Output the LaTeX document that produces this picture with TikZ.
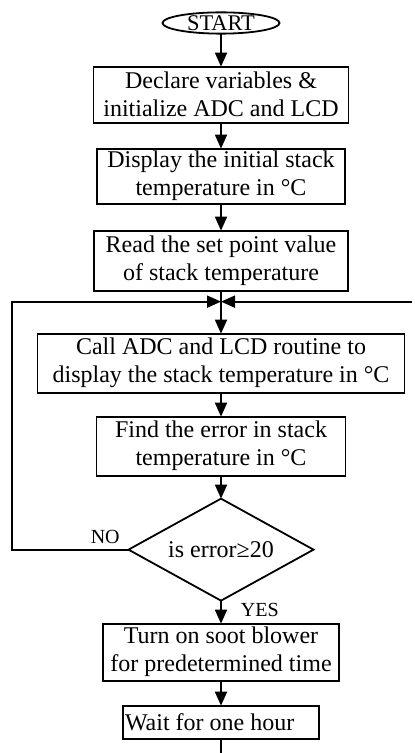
\documentclass[tikz,border=0pt]{standalone}
\usepackage{fontspec}
\setmainfont{Liberation Serif}
\usetikzlibrary{arrows.meta,positioning,shapes.geometric}

\begin{document}
\begin{tikzpicture}[
  node distance=12pt,
  every node/.style={font=\fontsize{12}{14}\selectfont},
  proc/.style={rectangle, draw, line width=0.9pt, align=center, inner xsep=1pt, inner ysep=0pt,
               outer sep=0pt, minimum height=28.5pt},
  term/.style={ellipse, draw, line width=0.9pt, minimum width=58.5pt, minimum height=10pt,
               inner sep=0pt, outer sep=0pt, font=\fontsize{11.2}{12}\selectfont},
  dec/.style={diamond, draw, line width=0.9pt, aspect=1.8, inner sep=0pt, outer sep=0pt,
              minimum width=92.5pt, minimum height=51pt},
  arr/.style={-{Triangle[length=7pt,width=6pt]}, line width=0.9pt},
  lbl/.style={font=\fontsize{10}{12}\selectfont, inner sep=0.5pt},
]
\useasboundingbox (0,0) rectangle (207pt,-376.5pt);

\node[term] (start) at (110.5pt,-11.5pt) {START};
\node[proc, minimum width=127.5pt, minimum height=28pt, below=16.5pt of start] (decl) {Declare variables \&\\initialize ADC and LCD};
\node[proc, minimum width=124pt, minimum height=27.5pt, below=13pt of decl] (disp) {Display the initial stack\\temperature in °C};
\node[proc, minimum width=127pt, minimum height=30pt, below=13.5pt of disp] (setp) {Read the set point value\\of stack temperature};
\node[proc, minimum width=183.5pt, minimum height=29.5pt, below=21.5pt of setp] (adc) {Call ADC and LCD routine to\\display the stack temperature in °C};
\node[proc, minimum width=124.5pt, minimum height=29.5pt, below=12pt of adc] (err) {Find the error in stack\\temperature in °C};
\node[dec, below=11.5pt of err] (chk) {is error≥20};
\node[proc, minimum width=118pt, below=11.5pt of chk] (soot) {Turn on soot blower\\for predetermined time};
\node[proc, minimum height=16.5pt, below=12.5pt of soot, text width=96pt, align=flush left] (wait) {Wait for one hour};

% loop ends
\coordinate[below=5.5pt of setp] (jn);
\coordinate (lft) at (6pt,0 |- chk);
\coordinate (rgt) at (206pt,0 |- jn);
\coordinate (bot) at (wait |- 0,-376.5pt);

\draw[arr] (start) -- (decl);
\draw[arr] (decl) -- (disp);
\draw[arr] (disp) -- (setp);
\draw[arr] (setp) -- (adc);
\draw[arr] (adc) -- (err);
\draw[arr] (err) -- (chk);
\draw[arr] (chk) -- node[lbl, pos=0.4, right=9pt]{YES} (soot);
\draw[arr] (soot) -- (wait);
\draw[line width=0.9pt] (wait) -- (bot);
\draw[arr] (chk.west) -- node[lbl, pos=0.2, above=2pt]{NO} (lft) |- (jn);
\draw[arr] (rgt) -- (jn);
\end{tikzpicture}
\end{document}
